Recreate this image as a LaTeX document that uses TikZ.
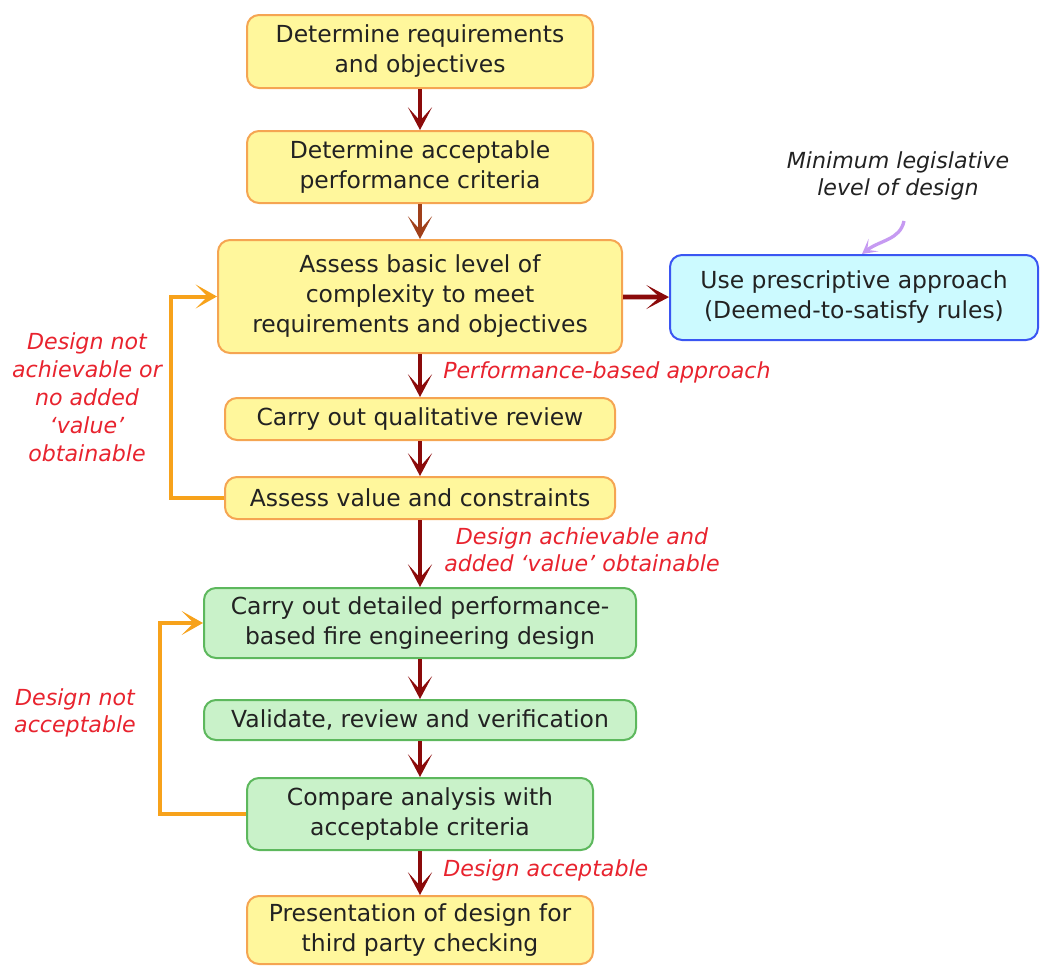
\documentclass[tikz,border=0pt]{standalone}
\usepackage{fontspec}
\setmainfont{DejaVu Sans}
\usetikzlibrary{arrows.meta}
\definecolor{ybox}{HTML}{FFF79C}
\definecolor{yline}{HTML}{F5A552}
\definecolor{gbox}{HTML}{C9F2C9}
\definecolor{gline}{HTML}{5DB85D}
\definecolor{bbox}{HTML}{CCFAFF}
\definecolor{bline}{HTML}{3A56F2}
\definecolor{darr}{HTML}{8B0A0A}
\definecolor{barr}{HTML}{A0401A}
\definecolor{oarr}{HTML}{F7A21B}
\definecolor{rtext}{HTML}{E8232E}
\definecolor{ptext}{HTML}{222222}
\definecolor{parr}{HTML}{C69AF2}
\tikzset{
  boxbase/.style={draw, rounded corners=9pt, line width=1.5pt, align=center,
    font=\fontsize{17.6}{22.5}\selectfont, text=ptext, inner sep=0pt},
  ybox/.style={boxbase, fill=ybox, draw=yline},
  gbox/.style={boxbase, fill=gbox, draw=gline},
  bbox/.style={boxbase, fill=bbox, draw=bline},
  flow/.style={line width=3.5pt, draw=darr, -{Stealth[length=17pt,width=18pt,inset=10pt]}},
  loop/.style={line width=3pt, draw=oarr, -{Stealth[length=16pt,width=18pt,inset=9pt]}},
  rlabel/.style={text=rtext, font=\fontsize{16.6}{20}\selectfont\itshape, align=center, inner sep=0pt},
  nlabel/.style={text=ptext, font=\fontsize{16.6}{20}\selectfont\itshape, align=center, inner sep=0pt},
}
\begin{document}
\begin{tikzpicture}[x=0.75pt,y=-0.75pt]
\useasboundingbox (0,0) rectangle (1040,965);
% boxes (sizes in pt = px*0.75)
\node[ybox, minimum width=259.5pt, minimum height=54.75pt] (b1) at (420,51.5) {Determine requirements\\and objectives};
\node[ybox, minimum width=259.5pt, minimum height=54pt] (b2) at (420,167) {Determine acceptable\\performance criteria};
\node[ybox, minimum width=303pt, minimum height=84.75pt] (b3) at (420,296.5) {Assess basic level of\\complexity to meet\\requirements and objectives};
\node[bbox, minimum width=276pt, minimum height=63.75pt] (bl) at (854,297.5) {Use prescriptive approach\\(Deemed-to-satisfy rules)};
\node[ybox, minimum width=292.5pt, minimum height=31.5pt] (b4) at (420,419) {Carry out qualitative review};
\node[ybox, minimum width=292.5pt, minimum height=31.5pt] (b5) at (420,498) {Assess value and constraints};
\node[gbox, minimum width=324pt, minimum height=52.5pt] (b6) at (420,623) {Carry out detailed performance-\\based fire engineering design};
\node[gbox, minimum width=324pt, minimum height=30pt] (b7) at (420,720) {Validate, review and verification};
\node[gbox, minimum width=259.5pt, minimum height=54pt] (b8) at (420,814) {Compare analysis with\\acceptable criteria};
\node[ybox, minimum width=259.5pt, minimum height=51pt] (b9) at (420,930) {Presentation of design for\\third party checking};
% flow arrows
\draw[flow] (b1) -- (b2);
\draw[flow, draw=barr] (b2) -- (b3);
\draw[flow] (b3) -- (bl);
\draw[flow] (b3) -- (b4);
\draw[flow] (b4) -- (b5);
\draw[flow] (b5) -- (b6);
\draw[flow] (b6) -- (b7);
\draw[flow] (b7) -- (b8);
\draw[flow] (b8) -- (b9);
% loops
\coordinate (c1) at (171,498);
\coordinate (c2) at (160,814);
\draw[loop] (b5.west) -- (c1) |- (b3.west);
\draw[loop] (b8.west) -- (c2) |- (b6.west);
% labels
\node[rlabel, anchor=west] (l1) at (443,372) {Performance-based approach};
\node[rlabel] (l2) at (582,550) {Design achievable and\\added `value' obtainable};
\node[rlabel, anchor=west] (l3) at (443,870) {Design acceptable};
\node[rlabel, font=\fontsize{16.6}{21}\selectfont\itshape] (l4) at (87,397) {Design not\\achievable or\\no added\\`value'\\obtainable};
\node[rlabel] (l5) at (75,713) {Design not\\acceptable};
\node[nlabel] (l6) at (898,176) {Minimum legislative\\level of design};
\coordinate (pa) at (904,221);
\coordinate (pe) at ([xshift=6pt]bl.north);
\draw[line width=2.5pt, draw=parr, -{Stealth[length=11pt,width=12pt,inset=6pt]}] (pa) .. controls (900,240) and (880,240) .. (pe);
\end{tikzpicture}
\end{document}
